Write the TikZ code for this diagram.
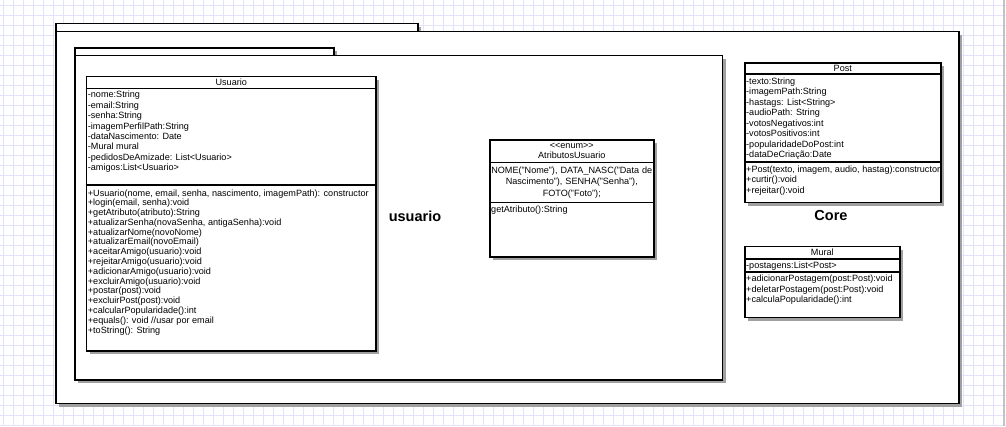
\documentclass[tikz,border=0pt]{standalone}
\usepackage{fontspec}
\setmainfont{Liberation Sans}
\usetikzlibrary{positioning}
\usetikzlibrary{calc}
\usetikzlibrary{shadows}
\definecolor{gridblue}{RGB}{226,226,250}
\definecolor{shadowgray}{RGB}{160,160,160}
\definecolor{edgegray}{RGB}{195,195,195}

\begin{document}
\begin{tikzpicture}[x=1pt, y=-1pt, font=\fontsize{9.1}{10.4}\selectfont]
    \tikzstyle{shade}=[drop shadow={shadow xshift=3pt, shadow yshift=-3pt, opacity=1, fill=shadowgray}]
    \tikzstyle{pkg}=[draw=black, fill=white, rectangle, line width=1.6pt, inner sep=0pt, anchor=north west, shade]
    \tikzstyle{classbox}=[draw=black, fill=white, rectangle, line width=1.6pt, inner sep=0pt, anchor=north west, shade]
    \tikzstyle{sep}=[draw=black, line width=1.6pt]
    \tikzstyle{members}=[anchor=north west, align=left, inner sep=0pt]
    \tikzstyle{title}=[anchor=center, inner sep=0pt]
    \tikzstyle{pkgname}=[anchor=center, inner sep=0pt, font=\fontsize{14.5}{16}\selectfont\bfseries]

    \useasboundingbox (0,0) rectangle (1006,426);
    % background grid
    \foreach \gx in {3,13,...,1003}
        \draw[gridblue, line width=1pt] (\gx,0) -- (\gx,426);
    \foreach \gy in {5,15,...,425}
        \draw[gridblue, line width=1pt] (0,\gy) -- (1006,\gy);
    \draw[edgegray, line width=1.5pt] (1004,0) -- (1004,426);

    % package Core
    \node[pkg, minimum width=362pt, minimum height=8pt] (coretab) at (55,22.7) {};
    \node[pkg, minimum width=903pt, minimum height=372pt] (core) at (55,30.7) {};
    \node[pkgname] (corename) at (831,216) {Core};

    % package usuario
    \node[pkg, minimum width=259pt, minimum height=7.7pt] (usuariotab) at (74,47) {};
    \node[pkg, minimum width=647.7pt, minimum height=324.3pt] (usuariopkg) at (74,54.7) {};
    \node[pkgname] (usuarioname) at (415,216) {usuario};

    % class Usuario
    \node[classbox, minimum width=289.5pt, minimum height=274.5pt] (usuario) at (85.7,75.7) {};
    \draw[sep] ($(usuario.north west)+(0,12.6)$) -- ($(usuario.north east)+(0,12.6)$);
    \draw[sep] ($(usuario.north west)+(0,109.3)$) -- ($(usuario.north east)+(0,109.3)$);
    \node[title] (usuariotitle) at ($(usuario.north)+(0,6.5)$) {Usuario};
    \node[members] (usuarioattrs) at ($(usuario.north west)+(2,15.5)$) {-nome:String\\-email:String\\-senha:String\\-imagemPerfilPath:String\\-dataNascimento: Date\\-Mural mural\\-pedidosDeAmizade: List<Usuario>\\-amigos:List<Usuario>};
    \node[members, font=\fontsize{9.1}{9.8}\selectfont] (usuarioops) at ($(usuario.north west)+(2,113.5)$) {+Usuario(nome, email, senha, nascimento, imagemPath): constructor\\+login(email, senha):void\\+getAtributo(atributo):String\\+atualizarSenha(novaSenha, antigaSenha):void\\+atualizarNome(novoNome)\\+atualizarEmail(novoEmail)\\+aceitarAmigo(usuario):void\\+rejeitarAmigo(usuario):void\\+adicionarAmigo(usuario):void\\+excluirAmigo(usuario):void\\+postar(post):void\\+excluirPost(post):void\\+calcularPopularidade():int\\+equals(): void //usar por email\\+toString(): String};

    % enum AtributosUsuario
    \node[classbox, minimum width=164pt, minimum height=117pt] (atributos) at (489,139) {};
    \draw[sep] ($(atributos.north west)+(0,23.3)$) -- ($(atributos.north east)+(0,23.3)$);
    \draw[sep] ($(atributos.north west)+(0,63.3)$) -- ($(atributos.north east)+(0,63.3)$);
    \node[title, align=center, font=\fontsize{9.1}{10}\selectfont] (atributostitle) at ($(atributos.north)+(0,11.7)$) {<\kern0pt<enum>\kern0pt>\\AtributosUsuario};
    \node[title, align=center, text width=162pt, font=\fontsize{9.1}{11.8}\selectfont] (atributosvalues) at ($(atributos.north)+(0,43.5)$) {NOME("Nome"), DATA\_NASC("Data de\\Nascimento"), SENHA("Senha"),\\FOTO("Foto");};
    \node[members] (atributosops) at ($(atributos.north west)+(2,66.5)$) {getAtributo():String};

    % class Post
    \node[classbox, minimum width=196pt, minimum height=139.5pt] (post) at (744,62.3) {};
    \draw[sep] ($(post.north west)+(0,11.8)$) -- ($(post.north east)+(0,11.8)$);
    \draw[sep] ($(post.north west)+(0,99.4)$) -- ($(post.north east)+(0,99.4)$);
    \node[title] (posttitle) at ($(post.north)+(0,5.9)$) {Post};
    \node[members, font=\fontsize{9.1}{10.5}\selectfont] (postattrs) at ($(post.north west)+(2,15)$) {-texto:String\\-imagemPath:String\\-hastags: List<String>\\-audioPath: String\\-votosNegativos:int\\-votosPositivos:int\\-popularidadeDoPost:int\\-dataDeCriação:Date};
    \begin{scope}
        \clip (post.north west) rectangle ($(post.south east)+(-0.8,0)$);
        \node[members, font=\fontsize{9.1}{10.8}\selectfont] (postops) at ($(post.north west)+(2,103)$) {+Post(texto, imagem, audio, hastag):constructor\\+curtir():void\\+rejeitar():void};
    \end{scope}

    % class Mural
    \node[classbox, minimum width=155pt, minimum height=71pt] (mural) at (744,245.7) {};
    \draw[sep] ($(mural.north west)+(0,13.3)$) -- ($(mural.north east)+(0,13.3)$);
    \draw[sep] ($(mural.north west)+(0,26)$) -- ($(mural.north east)+(0,26)$);
    \node[title] (muraltitle) at ($(mural.north)+(0,6.6)$) {Mural};
    \node[members] (muralattrs) at ($(mural.north west)+(2,16)$) {-postagens:List<Post>};
    \node[members, font=\fontsize{9.1}{10.2}\selectfont] (muralops) at ($(mural.north west)+(2,29.5)$) {+adicionarPostagem(post:Post):void\\+deletarPostagem(post:Post):void\\+calculaPopularidade():int};
\end{tikzpicture}
\end{document}
